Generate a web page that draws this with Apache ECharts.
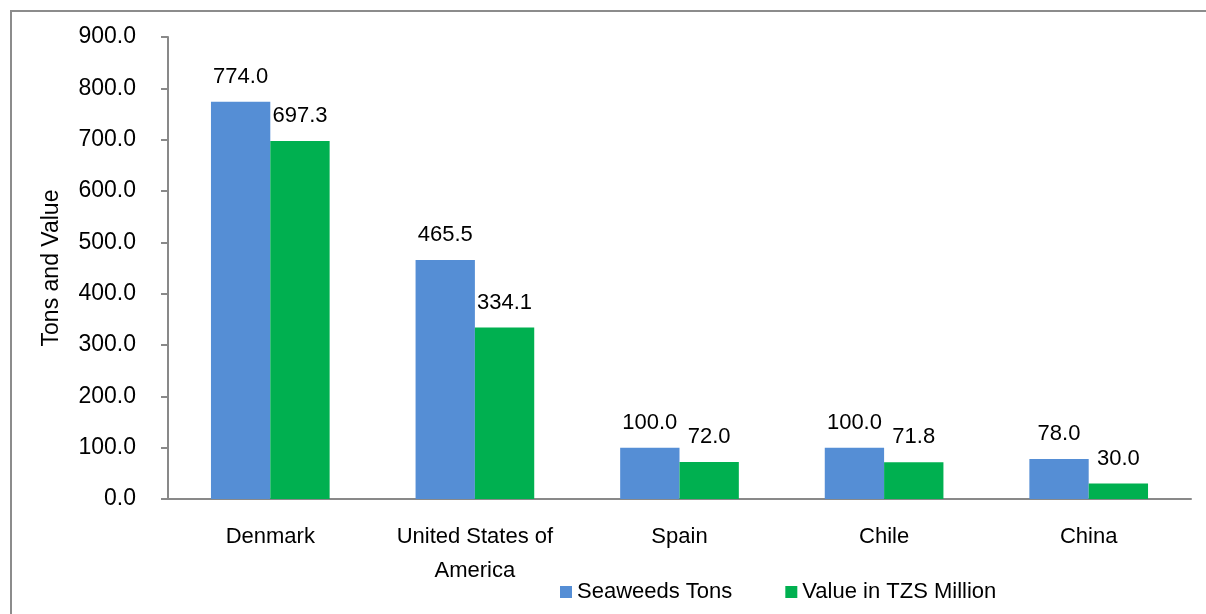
<!DOCTYPE html>
<html><head><meta charset="utf-8">
<script src="https://cdn.jsdelivr.net/npm/echarts@6/dist/echarts.min.js"></script>
<style>html,body{margin:0;padding:0;background:#fff}#c{width:1206px;height:614px}</style>
</head><body><div id="c"></div>
<script>
const categories = ["Denmark", "United States of\nAmerica", "Spain", "Chile", "China"];
const seaweedsTons = [774.0, 465.5, 100.0, 100.0, 78.0];
const valueTZS = [697.3, 334.1, 72.0, 71.8, 30.0];
const seriesNames = ["Seaweeds Tons", "Value in TZS Million"];
const yMin = 0, yMax = 900, yStep = 100;

const font = "'Liberation Sans', Arial, sans-serif";
const chart = echarts.init(document.getElementById('c'));
const lbl = {show: true, position: 'top', distance: 14, color: '#000', fontSize: 22, fontFamily: font,
  formatter: p => p.value.toFixed(1)};
chart.setOption({
  animation: false,
  graphic: [{type: 'rect', shape: {x: 11, y: 11, width: 1400, height: 800},
    style: {fill: 'none', stroke: '#8c8c8c', lineWidth: 2}, silent: true}],
  grid: {left: 168, top: 37, right: 15, bottom: 115, containLabel: false},
  legend: {left: 555, top: 576, itemWidth: 12, itemHeight: 12, itemGap: 53, icon: 'rect',
    textStyle: {color: '#000', fontSize: 22, fontFamily: font}, data: seriesNames},
  xAxis: {type: 'category', data: categories,
    axisLine: {lineStyle: {color: '#898989', width: 2}},
    axisTick: {length: 7, lineStyle: {color: '#898989', width: 2}},
    axisLabel: {color: '#000', fontSize: 22, fontFamily: font, margin: 21, lineHeight: 34, interval: 0}},
  yAxis: {type: 'value', min: yMin, max: yMax, interval: yStep,
    name: 'Tons and Value', nameLocation: 'middle', nameGap: 105, nameRotate: 90,
    nameTextStyle: {color: '#000', fontSize: 23, fontFamily: font},
    axisLine: {show: true, lineStyle: {color: '#898989', width: 2}},
    axisTick: {show: true, length: 7, lineStyle: {color: '#898989', width: 2}},
    splitLine: {show: false},
    axisLabel: {color: '#000', fontSize: 23, fontFamily: font, margin: 32, formatter: v => v.toFixed(1)}},
  series: [
    {name: seriesNames[0], type: 'bar', data: seaweedsTons, barGap: '0%', barCategoryGap: '42%',
      itemStyle: {color: '#558ED5'}, label: lbl},
    {name: seriesNames[1], type: 'bar', data: valueTZS, barGap: '0%', barCategoryGap: '42%',
      itemStyle: {color: '#00B050'}, label: lbl}
  ]
});
</script></body></html>
